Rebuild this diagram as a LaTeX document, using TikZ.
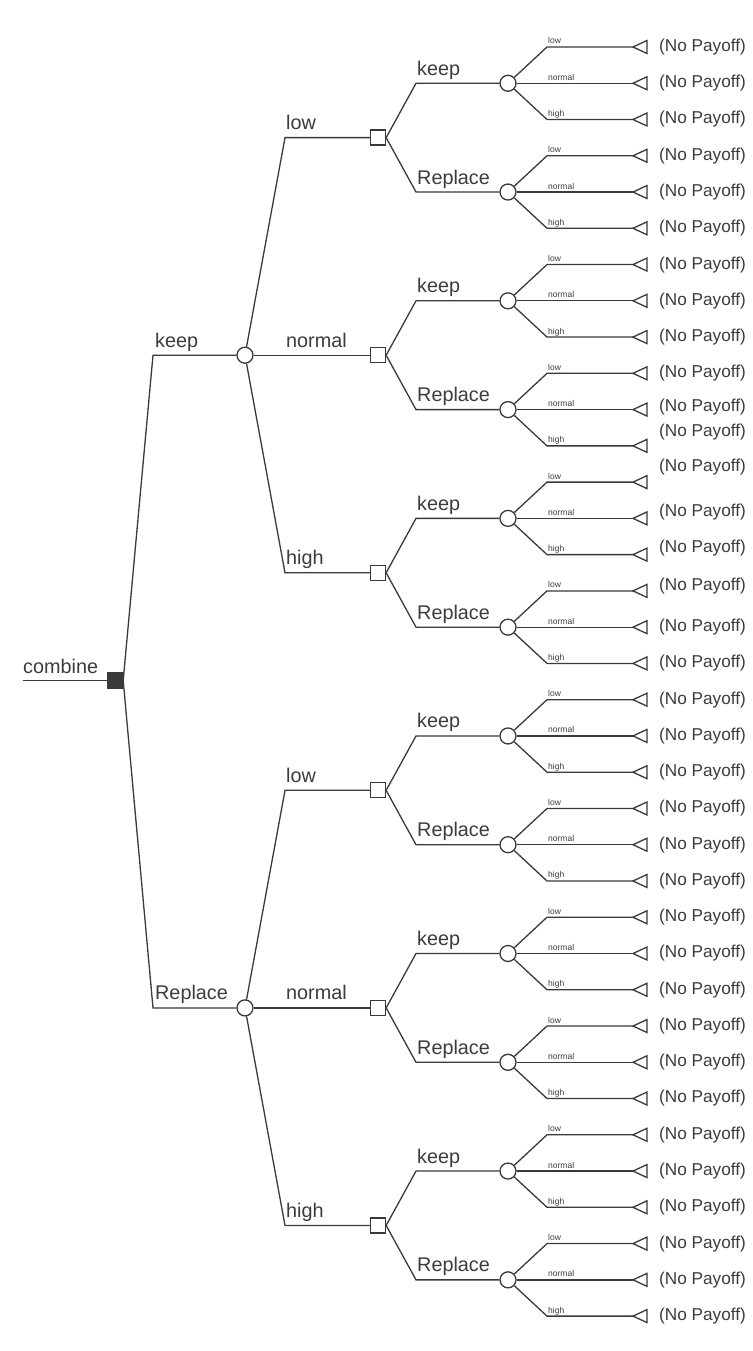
\documentclass[tikz,border=0pt]{standalone}
\usepackage{fontspec}
\setmainfont{Liberation Sans}
\definecolor{ink}{HTML}{3A3A3A}
\definecolor{txt}{HTML}{3C3C3C}
\begin{document}
\begin{tikzpicture}[x=1pt,y=-1pt,
  conn/.style={draw=ink, line width=1.3pt},
  endtri/.style={draw=ink, line width=1.3pt, line join=miter},
  rootbox/.style={rectangle, fill=ink, draw=ink, minimum size=16pt, inner sep=0pt},
  decbox/.style={rectangle, draw=ink, fill=white, line width=1.3pt, minimum size=15pt, inner sep=0pt},
  chance/.style={circle, draw=ink, fill=white, line width=1.3pt, minimum size=16pt, inner sep=0pt},
  biglbl/.style={anchor=base west, font=\fontsize{19.8}{22}\selectfont, text=txt, inner sep=0pt},
  smalllbl/.style={anchor=base west, font=\fontsize{8.5}{10}\selectfont, text=txt, inner sep=0pt},
  paylbl/.style={anchor=west, font=\fontsize{17.2}{20}\selectfont, text=txt, inner sep=0pt}]
\useasboundingbox (0,0) rectangle (752,1351);
\fill[white] (0,0) rectangle (752,1351);
\coordinate (c1) at (153,0);
\coordinate (c2) at (285,0);
\coordinate (c3) at (416,0);
\coordinate (c4) at (547,0);
\coordinate (start) at (23,680.5);
\node[rootbox] (root) at (115,680.5) {};
\draw[conn] (start) -- (root.west);
\node[biglbl] (lcombine) at (23,673) {combine};
% level 1
\foreach \i/\lab in {0/keep,1/Replace} {
  \pgfmathsetmacro{\y}{47+36.26*(18*\i+8.5)}
  \node[chance] (A\i) at (245,\y) {};
  \draw[conn] (root.east) -- (c1 |- A\i) -- (A\i);
  \node[biglbl] (lA\i) at (155,{\y-8}) {\lab};
}
% level 2
\foreach \m/\lab/\p in {0/low/0,1/normal/0,2/high/0,3/low/1,4/normal/1,5/high/1} {
  \pgfmathsetmacro{\y}{47+36.26*(6*\m+2.5)}
  \node[decbox] (B\m) at (378,\y) {};
  \draw[conn] (A\p) -- (c2 |- B\m) -- (B\m);
  \node[biglbl] (lB\m) at (286,{\y-8}) {\lab};
}
% level 3
\foreach \k in {0,...,11} {
  \pgfmathsetmacro{\y}{47+36.26*(3*\k+1)}
  \pgfmathtruncatemacro{\p}{floor(\k/2)}
  \pgfmathtruncatemacro{\r}{mod(\k,2)}
  \node[chance] (C\k) at (508,\y) {};
  \draw[conn] (B\p.east) -- (c3 |- C\k) -- (C\k);
  \node[biglbl] (lC\k) at (417,{\y-8}) {\ifnum\r=0 keep\else Replace\fi};
}
% leaves
\foreach \n in {0,...,35} {
  \pgfmathsetmacro{\y}{47+36.26*\n}
  \pgfmathtruncatemacro{\p}{floor(\n/3)}
  \pgfmathtruncatemacro{\r}{mod(\n,3)}
  \pgfmathsetmacro{\off}{{0,0,0,0,0,0,0,0,0,0,-3,-14,-15,-6,-7,-5,0,0,0,0,0,0,0,0,0,0,0,0,0,0,0,0,0,0,0,0}[\n]}
  \coordinate (D\n) at (633,\y);
  \draw[endtri] (D\n) -- ++(14,-6.5) -- ++(0,13) -- cycle;
  \draw[conn] (C\p) -- (c4 |- D\n) -- (D\n);
  \node[smalllbl] (lD\n) at (548,{\y-3}) {\ifcase\r low\or normal\or high\fi};
  \node[paylbl] (P\n) at (659,{\y+\off}) {(No Payoff)};
}
\end{tikzpicture}
\end{document}
